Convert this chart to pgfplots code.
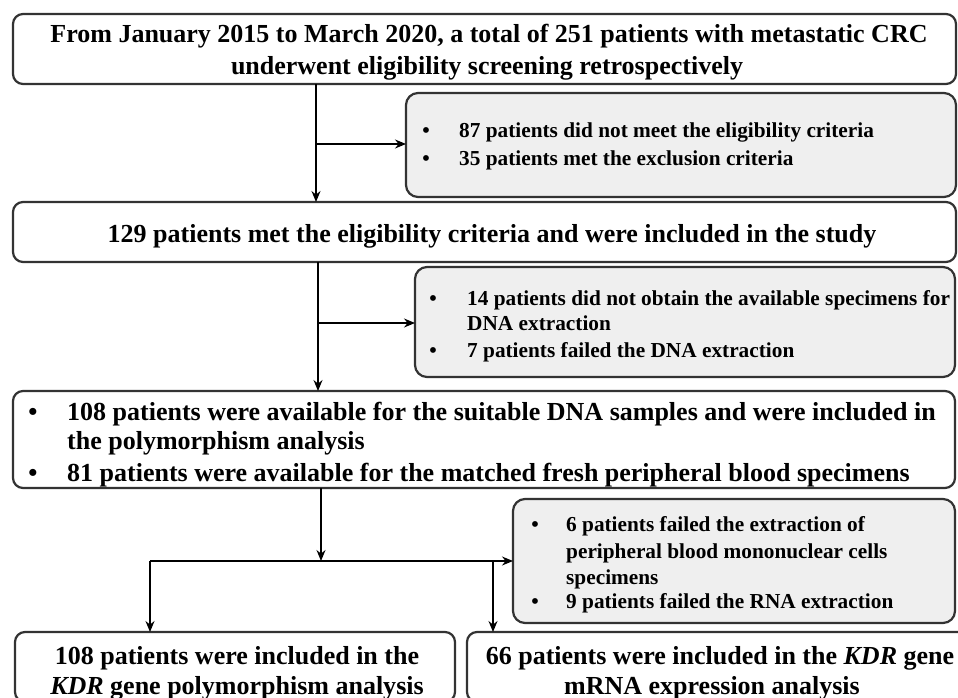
\documentclass[border=0pt]{standalone}
\usepackage{fontspec}
\setmainfont{Liberation Serif}
\usepackage{pgfplots}
\pgfplotsset{compat=1.18}
\usetikzlibrary{arrows.meta}
\definecolor{boxgray}{HTML}{EFEFEF}
\definecolor{edge}{HTML}{333333}
\newcommand\mainf{\fontsize{26bp}{30bp}\selectfont\bfseries}
\newcommand\smallf{\fontsize{21.3bp}{25bp}\selectfont\bfseries}
\begin{document}
\begin{tikzpicture}
\useasboundingbox (0,0) rectangle (958bp,698bp);
\clip (0,0) rectangle (958bp,698bp);
\begin{axis}[at={(0,0)},anchor=south west, scale only axis, width=958bp, height=698bp,
  xmin=0,xmax=958,ymin=0,ymax=698, y dir=reverse, hide axis, clip=false]
% boxes
\draw[edge, line width=2.2bp, rounded corners=10bp, fill=white] (axis cs:13,14) rectangle (axis cs:956,84);
\draw[edge, line width=2.2bp, rounded corners=12bp, fill=boxgray] (axis cs:406,93) rectangle (axis cs:956,197);
\draw[edge, line width=2.2bp, rounded corners=10bp, fill=white] (axis cs:13,202) rectangle (axis cs:956,262);
\draw[edge, line width=2.2bp, rounded corners=12bp, fill=boxgray] (axis cs:415,267) rectangle (axis cs:955,377);
\draw[edge, line width=2.2bp, rounded corners=10bp, fill=white] (axis cs:13,391) rectangle (axis cs:955,488);
\draw[edge, line width=2.2bp, rounded corners=12bp, fill=boxgray] (axis cs:513,499) rectangle (axis cs:955,623);
\draw[edge, line width=2.2bp, rounded corners=10bp, fill=white] (axis cs:15,632) rectangle (axis cs:455,702);
\draw[edge, line width=2.2bp, rounded corners=10bp, fill=white] (axis cs:467,632) rectangle (axis cs:1000,702);
% arrows
\tikzset{arr/.style={line width=1.4bp, black, -{Stealth[length=11bp,width=9bp]}}}
\draw[arr] (axis cs:316,84) -- (axis cs:316,202);
\draw[arr] (axis cs:316,144) -- (axis cs:406,144);
\draw[arr] (axis cs:318,262) -- (axis cs:318,391);
\draw[arr] (axis cs:318,323) -- (axis cs:415,323);
\draw[arr] (axis cs:321,488) -- (axis cs:321,561);
\draw[arr] (axis cs:150,561) -- (axis cs:513,561);
\draw[arr] (axis cs:150,561) -- (axis cs:150,632);
\draw[arr] (axis cs:493,561) -- (axis cs:493,632);
% text box 1
\node[anchor=base,inner sep=0,font=\mainf] at (axis cs:489,43) {From January 2015 to March 2020, a total of 251 patients with metastatic CRC};
\node[anchor=base,inner sep=0,font=\mainf] at (axis cs:487,75) {underwent eligibility screening retrospectively};
% gray 1
\node[anchor=base,inner sep=0,font=\smallf] at (axis cs:426,138) {\textbullet};
\node[anchor=base west,inner sep=0,font=\smallf] at (axis cs:459,138) {87 patients did not meet the eligibility criteria};
\node[anchor=base,inner sep=0,font=\smallf] at (axis cs:426,165) {\textbullet};
\node[anchor=base west,inner sep=0,font=\smallf] at (axis cs:459,165) {35 patients met the exclusion criteria};
% box 2
\node[anchor=base,inner sep=0,font=\mainf] at (axis cs:492,242) {129 patients met the eligibility criteria and were included in the study};
% gray 2
\node[anchor=base,inner sep=0,font=\smallf] at (axis cs:433,305) {\textbullet};
\node[anchor=base west,inner sep=0,font=\smallf] at (axis cs:467,305) {14 patients did not obtain the available specimens for};
\node[anchor=base west,inner sep=0,font=\smallf] at (axis cs:467,330) {DNA extraction};
\node[anchor=base,inner sep=0,font=\smallf] at (axis cs:433,357) {\textbullet};
\node[anchor=base west,inner sep=0,font=\smallf] at (axis cs:467,357) {7 patients failed the DNA extraction};
% box 3
\node[anchor=base,inner sep=0,font=\mainf] at (axis cs:33,420) {\textbullet};
\node[anchor=base west,inner sep=0,font=\mainf] at (axis cs:67,420) {108 patients were available for the suitable DNA samples and were included in};
\node[anchor=base west,inner sep=0,font=\mainf] at (axis cs:67,449) {the polymorphism analysis};
\node[anchor=base,inner sep=0,font=\mainf] at (axis cs:33,481) {\textbullet};
\node[anchor=base west,inner sep=0,font=\mainf] at (axis cs:67,481) {81 patients were available for the matched fresh peripheral blood specimens};
% gray 3
\node[anchor=base,inner sep=0,font=\smallf] at (axis cs:535,531) {\textbullet};
\node[anchor=base west,inner sep=0,font=\smallf] at (axis cs:566,531) {6 patients failed the extraction of};
\node[anchor=base west,inner sep=0,font=\smallf] at (axis cs:566,558) {peripheral blood mononuclear cells};
\node[anchor=base west,inner sep=0,font=\smallf] at (axis cs:566,584) {specimens};
\node[anchor=base,inner sep=0,font=\smallf] at (axis cs:535,608) {\textbullet};
\node[anchor=base west,inner sep=0,font=\smallf] at (axis cs:566,608) {9 patients failed the RNA extraction};
% box 4
\node[anchor=base,inner sep=0,font=\mainf] at (axis cs:237,664) {108 patients were included in the};
\node[anchor=base,inner sep=0,font=\mainf] at (axis cs:237,694) {\textit{KDR} gene polymorphism analysis};
% box 5
\node[anchor=base,inner sep=0,font=\mainf] at (axis cs:720,664) {66 patients were included in the \textit{KDR} gene};
\node[anchor=base,inner sep=0,font=\mainf] at (axis cs:712,694) {mRNA expression analysis};
\end{axis}
\end{tikzpicture}
\end{document}
